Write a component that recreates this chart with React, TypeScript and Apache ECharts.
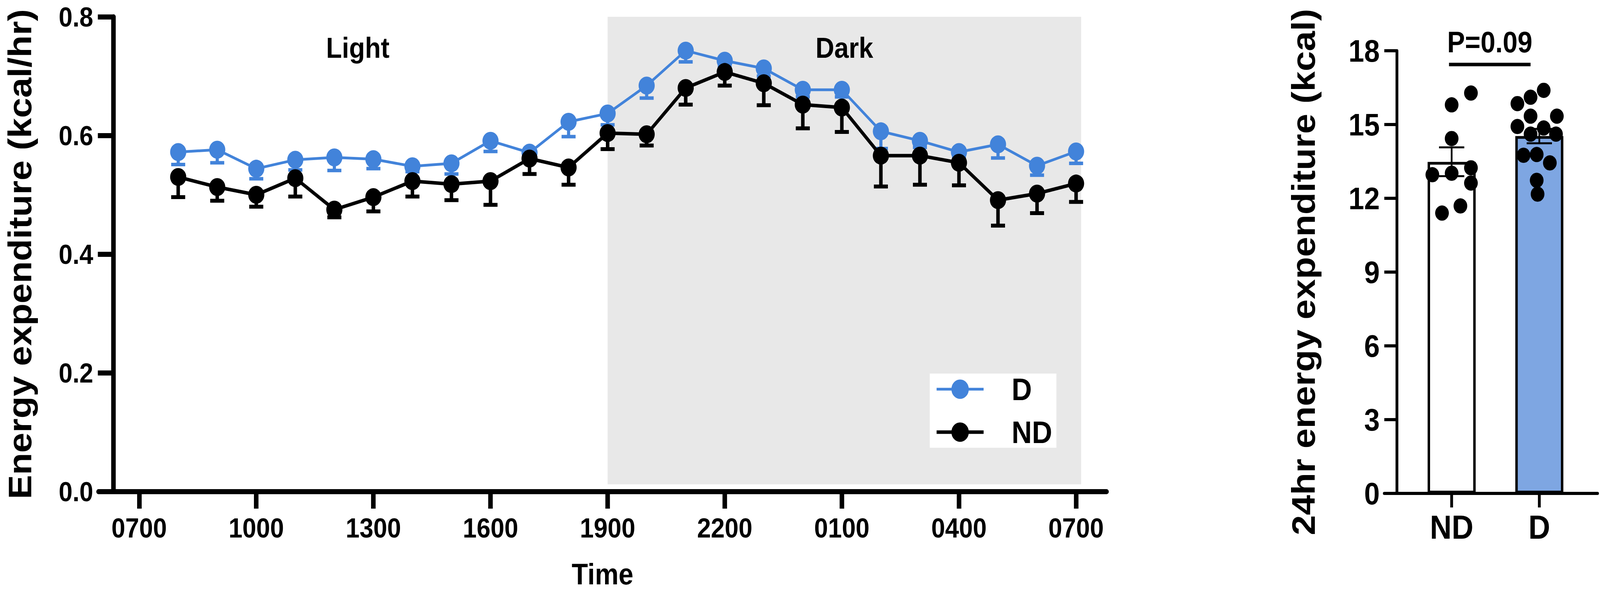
import React, { useEffect, useRef } from "react";
import * as echarts from "echarts";

// ---- Left panel data (hours after 0700) ----
const hourOffsets = [1, 2, 3, 4, 5, 6, 7, 8, 9, 10, 11, 12, 13, 14, 15, 16, 17, 18, 19, 20, 21, 22, 23, 24];
const timeTickValues = [0, 3, 6, 9, 12, 15, 18, 21, 24];
const timeTickLabels = ["0700", "1000", "1300", "1600", "1900", "2200", "0100", "0400", "0700"];
const energyTicks = [0, 0.2, 0.4, 0.6, 0.8];

const dMean = [0.572, 0.576, 0.544, 0.559, 0.563, 0.56, 0.548, 0.553, 0.591, 0.571, 0.623, 0.637, 0.684, 0.743, 0.726, 0.713, 0.677, 0.677, 0.607, 0.591, 0.572, 0.585, 0.549, 0.573];
const dLower = [0.551, 0.554, 0.527, 0.542, 0.541, 0.544, 0.539, 0.535, 0.573, 0.56, 0.598, 0.618, 0.663, 0.724, 0.715, 0.7, 0.665, 0.665, 0.578, 0.58, 0.562, 0.562, 0.533, 0.553];
const ndMean = [0.53, 0.513, 0.5, 0.528, 0.475, 0.496, 0.523, 0.518, 0.523, 0.561, 0.546, 0.604, 0.602, 0.68, 0.707, 0.688, 0.652, 0.647, 0.566, 0.566, 0.554, 0.491, 0.502, 0.519];
const ndLower = [0.496, 0.49, 0.48, 0.497, 0.462, 0.472, 0.497, 0.491, 0.483, 0.535, 0.517, 0.577, 0.583, 0.652, 0.684, 0.651, 0.612, 0.606, 0.514, 0.517, 0.516, 0.448, 0.469, 0.488];

const lightRange = [-0.8, 12];
const darkRange = [12, 24.13];
const shadeY = [0.012, 0.8];

// ---- Right panel data ----
const groups = ["ND", "D"];
const groupPos = [0, 1];
const barMeans = [13.48, 14.53];
const barLow = [12.9, 14.24];
const barHigh = [14.07, 14.82];
const ndDots = [16.28, 15.8, 14.43, 12.96, 13.02, 13.24, 12.62, 11.69, 11.4];
const ndJitter = [0.22, 0, 0, -0.22, 0, 0.22, 0.22, 0.1, -0.11];
const dDots = [16.39, 16.11, 15.85, 15.34, 15.34, 14.92, 14.86, 14.61, 14.61, 13.75, 13.78, 13.44, 12.73, 12.17];
const dJitter = [0.05, -0.1, -0.25, -0.1, 0.2, -0.25, 0.05, -0.1, 0.19, -0.18, -0.03, 0.12, -0.03, -0.02];
const kcalTicks = [0, 3, 6, 9, 12, 15, 18];
const pLabel = "P=0.09";
const pLineY = 17.44;
const pLineX = [-0.03, 0.9];

const BLUE = "#4283DA";
const BAR_BLUE = "#7EA6E2";
const FONT = "'Liberation Sans', Arial, sans-serif";
const BASE_W = 4562;
const BASE_H = 1514;

function errorBarRender(color: string, lw: number, capW: number) {
  return (params: any, api: any) => {
    const x = api.value(0);
    const p1 = api.coord([x, api.value(1)]);
    const p2 = api.coord([x, api.value(2)]);
    return {
      type: "group",
      children: [
        { type: "line", shape: { x1: p1[0], y1: p1[1], x2: p2[0], y2: p2[1] }, style: { stroke: color, lineWidth: lw } },
        { type: "line", shape: { x1: p2[0] - capW / 2, y1: p2[1], x2: p2[0] + capW / 2, y2: p2[1] }, style: { stroke: color, lineWidth: lw } },
      ],
    };
  };
}

function barErrRender(params: any, api: any) {
  const x = api.value(0);
  const lo = api.coord([x, api.value(1)]);
  const hi = api.coord([x, api.value(2)]);
  const capW = 72;
  const st = { stroke: "#000", lineWidth: 5 };
  return {
    type: "group",
    children: [
      { type: "line", shape: { x1: lo[0], y1: lo[1], x2: hi[0], y2: hi[1] }, style: st },
      { type: "line", shape: { x1: lo[0] - capW / 2, y1: lo[1], x2: lo[0] + capW / 2, y2: lo[1] }, style: st },
      { type: "line", shape: { x1: hi[0] - capW / 2, y1: hi[1], x2: hi[0] + capW / 2, y2: hi[1] }, style: st },
    ],
  };
}

function sigRender(params: any, api: any) {
  const a = api.coord([api.value(0), api.value(2)]);
  const b = api.coord([api.value(1), api.value(2)]);
  return {
    type: "group",
    children: [
      { type: "line", shape: { x1: a[0], y1: a[1], x2: b[0], y2: b[1] }, style: { stroke: "#000", lineWidth: 9 } },
      {
        type: "text",
        x: (a[0] + b[0]) / 2,
        y: a[1] - 20,
        style: {
          text: pLabel,
          fill: "#000",
          fontFamily: FONT,
          fontWeight: "bold",
          fontSize: 76,
          align: "center",
          verticalAlign: "bottom",
        },
      },
    ],
  };
}

export default function App() {
  const ref = useRef<HTMLDivElement>(null);
  const vw = typeof window !== "undefined" && window.innerWidth ? window.innerWidth : BASE_W;
  const vh = typeof window !== "undefined" && window.innerHeight ? window.innerHeight : BASE_H;
  const sx = vw / BASE_W;
  const sy = vh / BASE_H;
  useEffect(() => {
    if (!ref.current) return;
    const chart = echarts.init(ref.current, undefined, { renderer: "svg" });
    const textBase = { fontFamily: FONT, fontWeight: "bold" as const, color: "#000" };
    const option: any = {
      animation: false,
      backgroundColor: "#fff",
      textStyle: { fontFamily: FONT },
      grid: [
        { left: 281, top: 43, width: 2874, height: 1221 },
        { left: 3947, top: 130, width: 608, height: 1134 },
      ],
      xAxis: [
        {
          gridIndex: 0,
          type: "value",
          min: -1.04,
          max: 24.78,
          name: "Time",
          nameLocation: "middle",
          nameGap: 174,
          nameTextStyle: { ...textBase, fontSize: 76 },
          axisLine: { onZero: false, lineStyle: { color: "#000", width: 13 } },
          axisTick: { show: true, length: 44, customValues: timeTickValues, lineStyle: { color: "#000", width: 13 } },
          axisLabel: {
            ...textBase,
            fontSize: 71,
            margin: 58,
            customValues: timeTickValues,
            formatter: (v: number) => timeTickLabels[timeTickValues.indexOf(v)] ?? "",
          },
          splitLine: { show: false },
        },
        {
          gridIndex: 1,
          type: "value",
          min: -0.768,
          max: 1.664,
          axisLine: { onZero: false, lineStyle: { color: "#000", width: 8 } },
          axisTick: { show: true, length: 36, customValues: groupPos, lineStyle: { color: "#000", width: 8 } },
          axisLabel: {
            ...textBase,
            fontSize: 86,
            margin: 43,
            customValues: groupPos,
            formatter: (v: number) => groups[groupPos.indexOf(v)] ?? "",
          },
          splitLine: { show: false },
        },
      ],
      yAxis: [
        {
          gridIndex: 0,
          type: "value",
          min: 0,
          max: 0.8,
          interval: 0.2,
          offset: -42,
          name: "Energy expenditure (kcal/hr)",
          nameLocation: "middle",
          nameGap: 220,
          nameTextStyle: { ...textBase, fontSize: 93 },
          axisLine: { show: true, onZero: false, lineStyle: { color: "#000", width: 13 } },
          axisTick: { show: true, length: 44, customValues: energyTicks, lineStyle: { color: "#000", width: 13 } },
          axisLabel: { ...textBase, fontSize: 71, margin: 57, formatter: (v: number) => v.toFixed(1) },
          splitLine: { show: false },
        },
        {
          gridIndex: 1,
          type: "value",
          min: 0,
          max: 18,
          interval: 3,
          offset: -36,
          name: "24hr energy expenditure (kcal)",
          nameLocation: "middle",
          nameGap: 220,
          nameTextStyle: { ...textBase, fontSize: 93 },
          axisLine: { show: true, onZero: false, lineStyle: { color: "#000", width: 8 } },
          axisTick: { show: true, length: 36, customValues: kcalTicks, lineStyle: { color: "#000", width: 8 } },
          axisLabel: { ...textBase, fontSize: 80, margin: 49 },
          splitLine: { show: false },
        },
      ],
      legend: {
        data: ["D", "ND"],
        orient: "vertical",
        left: 2651,
        top: 957,
        padding: [0, 12, 0, 15],
        itemWidth: 134,
        itemHeight: 62,
        itemGap: 30,
        backgroundColor: "#fff",
        selectedMode: false,
        lineStyle: { width: "inherit" },
        textStyle: { ...textBase, fontSize: 80, lineHeight: 80, padding: [0, 0, 0, 75] },
      },
      series: [
        {
          name: "shade",
          type: "line",
          xAxisIndex: 0,
          yAxisIndex: 0,
          data: [],
          z: 0,
          markArea: {
            silent: true,
            data: [
              [
                {
                  coord: [lightRange[0], shadeY[0]],
                  itemStyle: { color: "rgba(0,0,0,0)" },
                  label: { show: true, formatter: "Light", position: "insideTop", distance: 42, ...textBase, fontSize: 74 },
                },
                { coord: [lightRange[1], shadeY[1]] },
              ],
              [
                {
                  coord: [darkRange[0], shadeY[0]],
                  itemStyle: { color: "#E8E8E8" },
                  label: { show: true, formatter: "Dark", position: "insideTop", distance: 42, ...textBase, fontSize: 74 },
                },
                { coord: [darkRange[1], shadeY[1]] },
              ],
            ],
          },
        },
        {
          name: "D err",
          type: "custom",
          xAxisIndex: 0,
          yAxisIndex: 0,
          z: 2,
          encode: { x: 0, y: [1, 2] },
          renderItem: errorBarRender(BLUE, 9, 40),
          data: hourOffsets.map((h, i) => [h, dMean[i], dLower[i]]),
        },
        {
          name: "D",
          type: "line",
          xAxisIndex: 0,
          yAxisIndex: 0,
          z: 3,
          symbol: "circle",
          symbolSize: 46,
          color: BLUE,
          lineStyle: { color: BLUE, width: 7 },
          itemStyle: { color: BLUE },
          data: hourOffsets.map((h, i) => [h, dMean[i]]),
        },
        {
          name: "ND err",
          type: "custom",
          xAxisIndex: 0,
          yAxisIndex: 0,
          z: 4,
          encode: { x: 0, y: [1, 2] },
          renderItem: errorBarRender("#000", 10, 40),
          data: hourOffsets.map((h, i) => [h, ndMean[i], ndLower[i]]),
        },
        {
          name: "ND",
          type: "line",
          xAxisIndex: 0,
          yAxisIndex: 0,
          z: 5,
          symbol: "circle",
          symbolSize: 46,
          color: "#000",
          lineStyle: { color: "#000", width: 9 },
          itemStyle: { color: "#000" },
          data: hourOffsets.map((h, i) => [h, ndMean[i]]),
        },
        {
          name: "bars",
          type: "bar",
          xAxisIndex: 1,
          yAxisIndex: 1,
          barWidth: 137,
          z: 2,
          itemStyle: { borderColor: "#000", borderWidth: 7 },
          data: groupPos.map((p, i) => ({
            value: [p, barMeans[i]],
            itemStyle: { color: i === 0 ? "#fff" : BAR_BLUE, borderColor: "#000", borderWidth: 7 },
          })),
        },
        {
          name: "bar err",
          type: "custom",
          xAxisIndex: 1,
          yAxisIndex: 1,
          z: 3,
          encode: { x: 0, y: [1, 2] },
          renderItem: barErrRender,
          data: groupPos.map((p, i) => [p, barLow[i], barHigh[i]]),
        },
        {
          name: "ND dots",
          type: "scatter",
          xAxisIndex: 1,
          yAxisIndex: 1,
          z: 4,
          symbolSize: 39,
          itemStyle: { color: "#000", opacity: 1 },
          data: ndDots.map((v, i) => [groupPos[0] + ndJitter[i], v]),
        },
        {
          name: "D dots",
          type: "scatter",
          xAxisIndex: 1,
          yAxisIndex: 1,
          z: 4,
          symbolSize: 39,
          itemStyle: { color: "#000", opacity: 1 },
          data: dDots.map((v, i) => [groupPos[1] + dJitter[i], v]),
        },
        {
          name: "sig",
          type: "custom",
          xAxisIndex: 1,
          yAxisIndex: 1,
          z: 5,
          clip: false,
          encode: { x: [0, 1], y: 2 },
          renderItem: sigRender,
          data: [[pLineX[0], pLineX[1], pLineY]],
        },
      ],
    };
    chart.setOption(option);
    return () => chart.dispose();
  }, []);
  return (
    <div
      style={{
        position: "fixed",
        left: 0,
        top: 0,
        width: "100vw",
        height: "100vh",
        overflow: "hidden",
        background: "#fff",
      }}
    >
      <div
        ref={ref}
        style={{
          width: BASE_W,
          height: BASE_H,
          transform: `scale(${sx}, ${sy})`,
          transformOrigin: "0 0",
          background: "#fff",
        }}
      />
    </div>
  );
}
